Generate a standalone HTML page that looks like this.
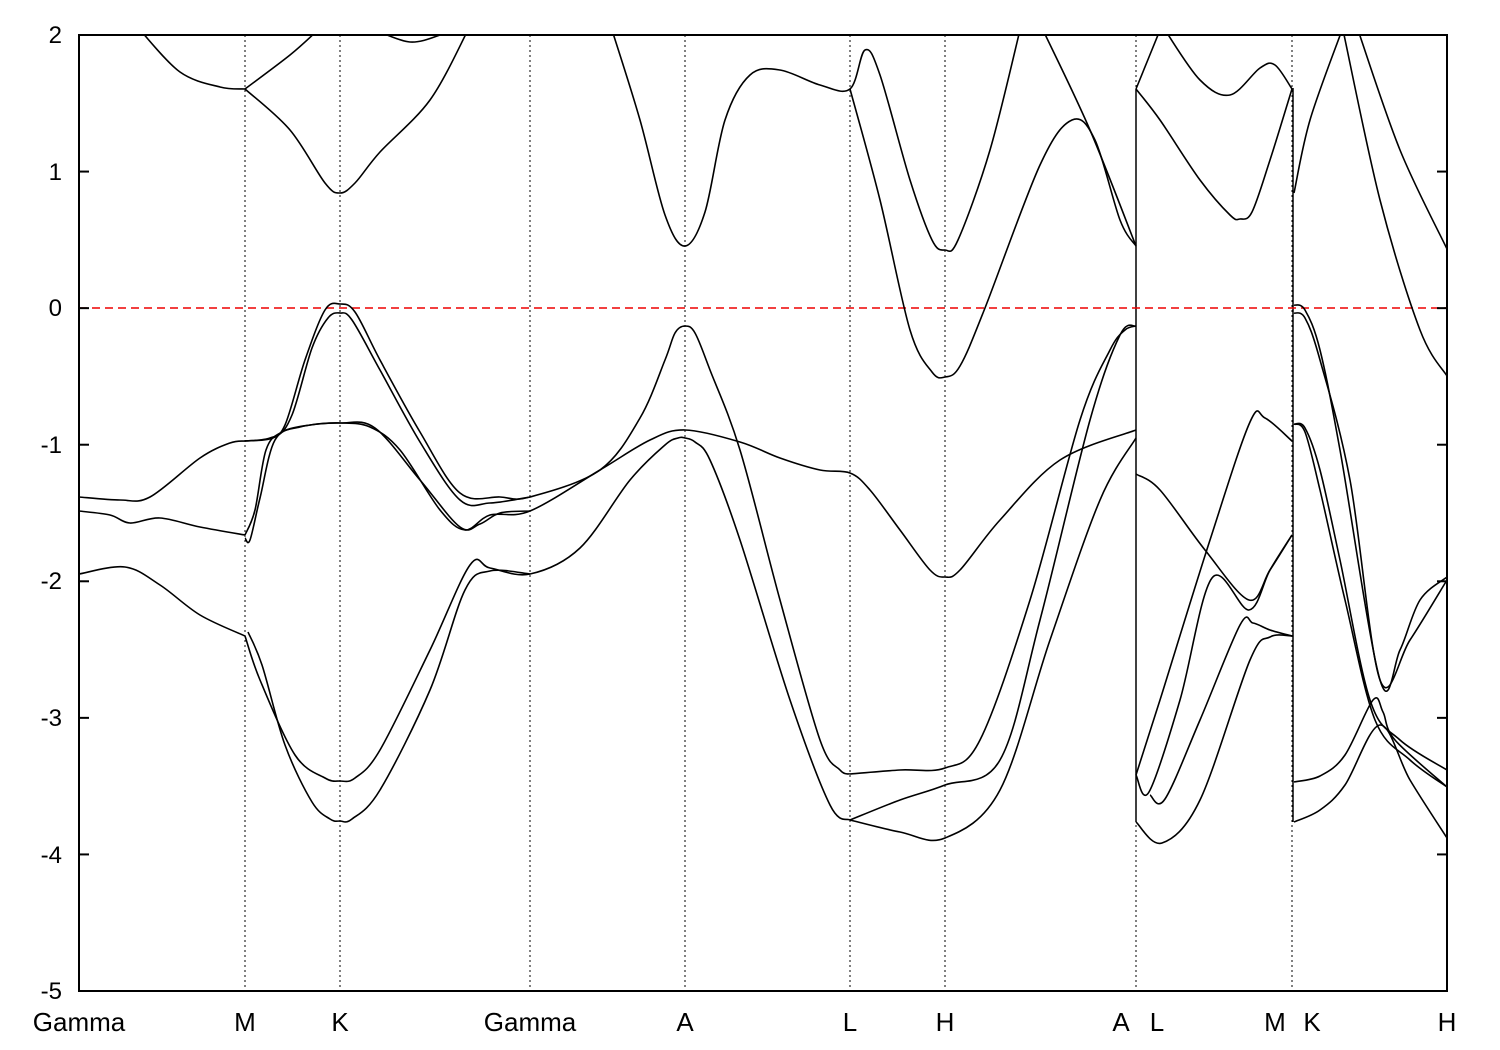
<!DOCTYPE html>
<html><head><meta charset="utf-8"><style>
html,body{margin:0;padding:0;background:#fff;width:1500px;height:1050px;overflow:hidden}
text{font-family:"Liberation Sans",sans-serif;font-size:24px;fill:#000}
.xl text{font-size:26px}
</style></head><body>
<svg id="s" width="1500" height="1050" xmlns="http://www.w3.org/2000/svg">
<defs><clipPath id="c"><rect x="79" y="35" width="1368" height="956"/></clipPath></defs>
<g stroke="#000" stroke-width="1" stroke-dasharray="2,3">
<line x1="245" y1="35" x2="245" y2="991"/><line x1="340" y1="35" x2="340" y2="991"/>
<line x1="530" y1="35" x2="530" y2="991"/><line x1="685" y1="35" x2="685" y2="991"/>
<line x1="850" y1="35" x2="850" y2="991"/><line x1="945" y1="35" x2="945" y2="991"/>
<line x1="1136" y1="35" x2="1136" y2="991"/><line x1="1292" y1="35" x2="1292" y2="991"/>
</g>
<g stroke="#000" stroke-width="1.5">
<line x1="1136" y1="89" x2="1136" y2="822"/><line x1="1293" y1="88" x2="1293" y2="822"/>
</g>
<line x1="79" y1="308" x2="1447" y2="308" stroke="#e00" stroke-width="1.5" stroke-dasharray="8,5"/>
<g id="bands" clip-path="url(#c)" fill="none" stroke="#000" stroke-width="1.6"></g>
<rect x="79" y="35" width="1368" height="956" fill="none" stroke="#000" stroke-width="2"/>
<g stroke="#000" stroke-width="2" id="ticks"></g>
<g text-anchor="end">
<text x="62" y="43">2</text><text x="62" y="180">1</text><text x="62" y="316">0</text>
<text x="62" y="453">-1</text><text x="62" y="589">-2</text><text x="62" y="726">-3</text>
<text x="62" y="863">-4</text><text x="62" y="999">-5</text>
</g>
<g text-anchor="middle" class="xl">
<text x="79" y="1031">Gamma</text><text x="245" y="1031">M</text><text x="340" y="1031">K</text>
<text x="530" y="1031">Gamma</text><text x="685" y="1031">A</text><text x="850" y="1031">L</text>
<text x="945" y="1031">H</text><text x="1121" y="1031">A</text><text x="1157" y="1031">L</text>
<text x="1275" y="1031">M</text><text x="1312" y="1031">K</text><text x="1447" y="1031">H</text>
</g>
</svg>
<script>
var B=[
[[79,497],[120,500],[150,497],[200,458],[230,443],[245,441]],
[[79,511],[110,515],[130,523],[160,518],[200,527],[245,535]],
[[79,574],[125,567],[160,585],[200,615],[245,636]],
[[140,30],[180,72],[220,87],[245,89]],
[[245,441],[270,438],[285,425],[305,360],[325,310],[340,304],[355,312],[380,360],[420,432],[460,493],[500,497],[530,497],[600,470],[640,418],[665,360],[675,333],[685,326],[695,333],[710,370],[740,450],[780,600],[820,740],[840,770],[850,774]],
[[245,441],[275,437],[292,415],[312,348],[328,318],[340,313],[352,320],[380,370],[420,442],[460,500],[490,503],[530,497]],
[[245,535],[255,510],[266,450],[282,432],[310,425],[340,423],[370,427],[400,450],[440,510],[465,530],[490,515],[530,511],[600,470],[650,440],[685,430],[740,442],[780,458],[820,470],[850,473],[870,490],[900,530],[930,570],[945,577],[960,570],[1000,520],[1060,460],[1136,430]],
[[245,538],[250,540],[260,498],[275,440],[300,427],[340,423],[375,428],[420,480],[460,527],[480,524],[500,513],[530,511]],
[[245,636],[260,680],[295,755],[325,778],[340,781],[355,778],[380,750],[430,650],[470,565],[490,568],[530,574],[580,548],[630,480],[665,445],[678,438],[685,438],[695,442],[710,460],[740,540],[790,700],[830,805],[850,820]],
[[248,632],[262,665],[285,745],[312,802],[330,819],[340,821],[352,819],[380,790],[430,690],[465,590],[490,571],[530,574]],
[[245,89],[290,130],[325,183],[340,193],[355,183],[380,152],[430,100],[468,30]],
[[245,89],[290,55],[318,30]],
[[375,30],[410,42],[440,35],[450,28]],
[[612,30],[640,120],[665,215],[685,246],[705,212],[725,120],[750,75],[780,70],[820,85],[850,89],[865,50],[880,75],[910,180],[932,240],[945,250],[958,240],[990,150],[1020,30]],
[[850,89],[880,200],[910,330],[932,372],[945,377],[960,366],[985,308],[1040,165],[1072,120],[1095,140],[1120,220],[1136,246]],
[[850,774],[900,770],[945,768],[980,740],[1030,600],[1080,420],[1110,350],[1125,330],[1136,326]],
[[850,820],[900,832],[945,838],[1000,790],[1050,640],[1100,500],[1136,438]],
[[850,820],[900,800],[945,785],[1000,760],[1040,620],[1090,420],[1120,335],[1136,326]],
[[1043,30],[1090,130],[1136,246]],
[[1136,474],[1160,490],[1205,550],[1249,600],[1270,570],[1292,535]],
[[1136,775],[1160,700],[1210,540],[1250,422],[1265,418],[1292,441]],
[[1136,775],[1149,792],[1180,700],[1212,578],[1249,610],[1270,570],[1292,535]],
[[1150,795],[1165,799],[1200,720],[1240,625],[1253,623],[1270,630],[1292,636]],
[[1136,822],[1162,843],[1200,800],[1250,660],[1270,637],[1292,636]],
[[1136,89],[1160,30]],
[[1165,30],[1200,80],[1230,95],[1260,68],[1275,65],[1292,89]],
[[1136,89],[1160,120],[1200,180],[1230,215],[1240,219],[1252,212],[1270,160],[1292,89]],
[[1294,305],[1305,310],[1320,350],[1340,450],[1380,680],[1400,650],[1420,600],[1447,577]],
[[1294,313],[1305,318],[1320,360],[1350,480],[1380,680],[1410,640],[1447,580]],
[[1294,424],[1305,428],[1320,470],[1340,560],[1370,700],[1400,740],[1447,770]],
[[1294,424],[1305,432],[1320,490],[1345,600],[1375,720],[1410,760],[1447,787]],
[[1294,782],[1320,776],[1345,755],[1373,700],[1383,712],[1395,740],[1447,787]],
[[1294,822],[1320,810],[1345,785],[1380,725],[1410,780],[1447,838]],
[[1294,193],[1310,120],[1342,30]],
[[1343,30],[1380,200],[1420,330],[1447,376]],
[[1358,30],[1400,150],[1447,249]]
];
function path(p){var d="M"+p[0][0]+","+p[0][1];for(var i=0;i<p.length-1;i++){var p0=p[i-1]||p[i],p1=p[i],p2=p[i+1],p3=p[i+2]||p2;
d+=" C"+(p1[0]+(p2[0]-p0[0])/6).toFixed(1)+","+(p1[1]+(p2[1]-p0[1])/6).toFixed(1)+" "+(p2[0]-(p3[0]-p1[0])/6).toFixed(1)+","+(p2[1]-(p3[1]-p1[1])/6).toFixed(1)+" "+p2[0]+","+p2[1];}return d;}
var g=document.getElementById("bands"),ns="http://www.w3.org/2000/svg";
B.forEach(function(p){var e=document.createElementNS(ns,"path");e.setAttribute("d",path(p));g.appendChild(e);});
var t=document.getElementById("ticks");
for(var k=0;k<8;k++){var y=35+k*956/7;[[79,89],[1437,1447]].forEach(function(a){var l=document.createElementNS(ns,"line");l.setAttribute("x1",a[0]);l.setAttribute("x2",a[1]);l.setAttribute("y1",y);l.setAttribute("y2",y);t.appendChild(l);});}
</script>
</body></html>
